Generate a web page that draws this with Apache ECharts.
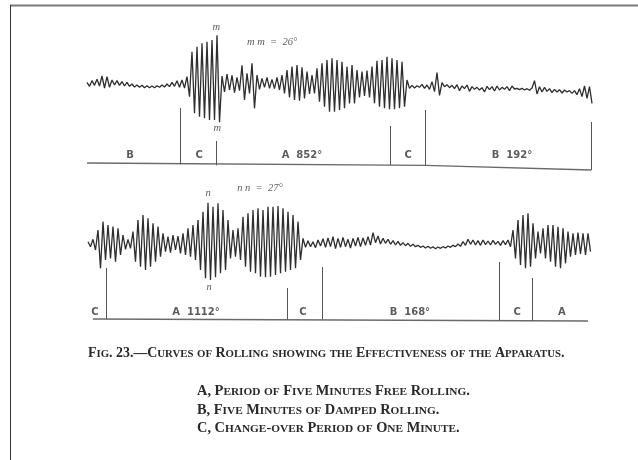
<!DOCTYPE html>
<html>
<head>
<meta charset="utf-8">
<script src="https://cdn.jsdelivr.net/npm/echarts@6/dist/echarts.min.js"></script>
<style>html,body{margin:0;padding:0;background:#fff}#c{width:638px;height:460px}</style>
</head>
<body>
<div id="c"></div>
<script>
// ---- DATA (roll angle in degrees at successive half-roll turning points) ----
const SAMPLE_STEP_MIN = 0.072; // minutes between turning points (half a roll period)

const topRoll = [
 0.3,-0.9,0.8,-0.6,1.2,-0.8,2.2,-1.4,2.0,-1.2,
 1.0,-0.5,0.8,-0.6,0.5,-0.8,0.3,-0.9,-0.2,-1.1,
 -0.5,-1.2,-0.6,-1.3,-0.7,-1.3,-0.8,-1.3,-0.7,-1.2,
 -0.5,-1.1,-0.2,-1.0,0.3,-0.9,0.8,-1.2,1.0,-1.4,
 2.0,-4.0,9.5,-9.0,11.0,-10.0,12.0,-10.5,12.5,-11.0,
 13.0,-11.0,14.4,-11.7,2.2,-2.6,2.8,-2.0,2.4,-2.8,
 1.8,-2.2,5.4,-5.0,3.0,-3.0,6.0,-7.5,2.5,-1.8,
 1.5,-1.2,1.8,-1.5,1.2,-1.6,1.8,-2.0,2.5,-3.0,
 4.0,-4.2,5.0,-5.0,5.5,-5.2,4.8,-4.5,3.5,-3.2,
 2.5,-3.0,4.5,-5.5,6.0,-7.0,7.0,-8.5,7.5,-8.5,
 7.0,-8.0,6.5,-7.5,5.0,-6.0,5.5,-6.0,4.0,-4.2,
 3.5,-3.8,3.8,-4.2,5.0,-6.0,6.8,-7.0,7.0,-7.5,
 8.0,-7.8,7.5,-7.8,7.0,-7.5,6.5,-7.0,1.0,-1.5,
 -0.6,-1.4,-0.7,-1.2,-0.3,-1.5,-0.5,-1.8,0.5,-2.5,
 3.2,-3.6,0.2,-1.0,-0.4,-1.3,-0.6,-1.6,-0.4,-2.2,
 -0.8,-1.6,-0.5,-2.4,-1.0,-1.8,-1.2,-2.0,-1.3,-2.6,
 -0.9,-1.9,-1.0,-2.3,-0.8,-2.0,-1.2,-1.8,-1.0,-2.2,
 -0.8,-1.7,-1.5,-1.9,-1.5,-2.0,-1.6,-2.1,-1.4,0.8,
 -3.2,-1.0,-2.6,-1.2,-2.4,-1.6,-2.8,-1.8,-2.6,-1.9,
 -2.9,-2.0,-2.6,-2.2,-3.0,-2.2,-3.4,-1.6,-4.0,-0.8,
 -4.5,-1.0,-6.0
];

const bottomRoll = [
 0.5,-1.0,1.2,-2.0,4.0,-7.5,6.5,-5.0,5.5,-4.5,
 5.0,-5.5,4.5,-3.5,2.5,-1.8,1.2,-1.5,3.5,-5.5,
 7.0,-7.0,8.5,-8.0,7.5,-7.0,6.0,-5.5,5.0,-4.0,
 3.0,-2.5,2.0,-2.8,2.5,-2.0,2.2,-3.0,3.0,-3.5,
 4.5,-4.0,5.5,-5.0,7.0,-8.0,9.5,-10.5,12.2,-11.0,
 11.0,-10.2,12.0,-9.0,10.0,-8.0,7.0,-4.5,4.0,-4.0,
 4.5,-5.0,8.0,-7.0,9.0,-8.5,10.0,-9.0,10.5,-10.0,
 10.0,-10.2,11.0,-10.0,11.0,-9.5,11.2,-9.0,10.5,-8.5,
 9.5,-8.0,8.5,-7.5,6.5,-5.0,1.5,-1.2,0.8,-1.0,
 0.5,-1.3,1.0,-0.8,1.4,-1.2,1.6,-1.0,2.0,-1.6,
 1.5,-1.2,1.8,-1.0,1.2,-1.4,1.5,-0.8,1.8,-1.0,
 1.6,-0.6,2.0,-0.5,3.2,0.2,2.2,-0.2,1.5,0.0,
 1.2,-0.3,0.8,-0.5,0.6,-0.6,0.2,-0.7,0.0,-0.9,
 -0.3,-1.0,-0.6,-1.2,-0.8,-1.4,-0.9,-1.5,-1.0,-1.6,
 -1.1,-1.5,-1.0,-1.4,-0.8,-1.2,-0.6,-1.0,-0.2,-0.9,
 0.5,-0.6,1.2,-0.3,1.0,-0.5,0.8,-0.6,1.0,-0.4,
 0.7,-0.5,0.9,-0.3,0.6,-0.6,0.8,-0.4,1.0,-1.0,
 4.0,-4.5,7.0,-6.5,8.5,-7.5,9.0,-7.0,6.0,-4.5,
 3.5,-3.0,4.5,-4.5,5.5,-5.5,5.5,-7.0,5.0,-7.5,
 4.5,-6.0,3.5,-4.0,3.0,-3.5,3.2,-3.2,3.0,-3.5,
 3.0,-2.5
];

// period boundaries (minutes from start of each trace)
const topBoundaries = [2.68, 3.72, 8.73, 9.74, 14.52];
const bottomBoundaries = [0.52, 5.73, 6.74, 11.84, 12.79];

// period labels and their centres (minutes)
const topPeriodLabels = ['B', 'C', 'A  852°', 'C', 'B  192°'];
const topPeriodCentres = [1.24, 3.23, 6.19, 9.25, 12.24];
const bottomPeriodLabels = ['C', 'A  1112°', 'C', 'B  168°', 'C', 'A'];
const bottomPeriodCentres = [0.2, 3.11, 6.19, 9.27, 12.36, 13.65];

// ---- LAYOUT / STYLE ----
const topMarkerTops = [-7.4, -17.3, -12.8, -8.0, -11.6];
const topMarkerBottoms = [-24.3, -24.6, -24.5, -24.6, -26.0];
const bottomMarkerTops = [-7.4, -13.4, -7.1, -5.6, -10.4];
const bottomMarkerBottoms = [-22.7, -22.9, -22.9, -23.1, -23.2];

const INK = '#2e2e2e';
const labelFont = {fontFamily: 'DejaVu Sans', fontSize: 10, fontWeight: 'bold', color: '#333'};

function smallCaps(str) {
  let out = '', cur = null, buf = '';
  for (const ch of str) {
    const isLower = ch >= 'a' && ch <= 'z';
    const kind = isLower ? 's' : 'b';
    if (kind !== cur && buf) { out += '{' + cur + '|' + buf + '}'; buf = ''; }
    cur = kind;
    buf += isLower ? ch.toUpperCase() : ch;
  }
  if (buf) out += '{' + cur + '|' + buf + '}';
  return out;
}
function capsRich(big, small) {
  return {
    b: {fontFamily: 'Liberation Serif', fontSize: big, color: '#2a2a2a', verticalAlign: 'bottom', lineHeight: 16},
    s: {fontFamily: 'Liberation Serif', fontSize: small, color: '#2a2a2a', verticalAlign: 'bottom', lineHeight: 16}
  };
}
function capsTitle(text, left, top, big, small) {
  return {text: smallCaps(text), left: left, top: top, padding: 0,
          textStyle: {rich: capsRich(big, small), fontFamily: 'Liberation Serif'}};
}

function markerLines(bounds, tops, bottoms) {
  return bounds.map((t, k) => [{coord: [t, tops[k]]}, {coord: [t, bottoms[k]]}]);
}
function labelPoints(centres, labels, y) {
  return centres.map((t, k) => ({value: [t, y], name: labels[k]}));
}

const chart = echarts.init(document.getElementById('c'), null, {renderer: 'canvas'});
chart.setOption({
  animation: false,
  backgroundColor: '#ffffff',
  title: [
    capsTitle('Fig. 23.—Curves of Rolling showing the Effectiveness of the Apparatus.', 88, 344, 13.9, 10.8),
    capsTitle('A, Period of Five Minutes Free Rolling.', 197, 382, 14.4, 11.3),
    capsTitle('B, Five Minutes of Damped Rolling.', 197, 401, 14.4, 11.3),
    capsTitle('C, Change-over Period of One Minute.', 197, 419, 14.4, 11.3)
  ],
  graphic: [
    {type: 'line', shape: {x1: 10, y1: 5.5, x2: 638, y2: 5.5}, style: {stroke: '#7a7a7a', lineWidth: 2}},
    {type: 'line', shape: {x1: 10.5, y1: 5, x2: 10.5, y2: 460}, style: {stroke: '#333', lineWidth: 1}}
  ],
  grid: [
    {left: 87, top: 20, width: 505, height: 155},
    {left: 88, top: 180, width: 502.5, height: 155}
  ],
  xAxis: [
    {gridIndex: 0, type: 'value', min: 0, max: (topRoll.length - 1) * SAMPLE_STEP_MIN, show: false},
    {gridIndex: 1, type: 'value', min: 0, max: (bottomRoll.length - 1) * SAMPLE_STEP_MIN, show: false}
  ],
  yAxis: [
    {gridIndex: 0, type: 'value', min: -27.5, max: 19, show: false},
    {gridIndex: 1, type: 'value', min: -27.5, max: 19, show: false}
  ],
  series: [
    {type: 'line', xAxisIndex: 0, yAxisIndex: 0, showSymbol: false, silent: true,
     data: topRoll.map((v, i) => [i * SAMPLE_STEP_MIN, v]),
     lineStyle: {color: INK, width: 1.3}},
    {type: 'line', xAxisIndex: 1, yAxisIndex: 1, showSymbol: false, silent: true,
     data: bottomRoll.map((v, i) => [i * SAMPLE_STEP_MIN, v]),
     lineStyle: {color: INK, width: 1.3}},
    {type: 'line', xAxisIndex: 0, yAxisIndex: 0, showSymbol: false, silent: true,
     data: [[0, -23.9], [9.74, -24.6], [14.52, -26.0]],
     lineStyle: {color: '#6a6a6a', width: 1.3},
     markLine: {silent: true, symbol: ['none', 'none'], label: {show: false},
       lineStyle: {color: '#555', width: 1, type: 'solid'},
       data: markerLines(topBoundaries, topMarkerTops, topMarkerBottoms)}},
    {type: 'line', xAxisIndex: 1, yAxisIndex: 1, showSymbol: false, silent: true,
     data: [[0.14, -22.7], [14.40, -23.3]],
     lineStyle: {color: '#6a6a6a', width: 1.3},
     markLine: {silent: true, symbol: ['none', 'none'], label: {show: false},
       lineStyle: {color: '#555', width: 1, type: 'solid'},
       data: markerLines(bottomBoundaries, bottomMarkerTops, bottomMarkerBottoms)}},
    {type: 'scatter', xAxisIndex: 0, yAxisIndex: 0, symbolSize: 0, silent: true,
     data: labelPoints(topPeriodCentres, topPeriodLabels, -21.5),
     label: Object.assign({show: true, position: 'inside', formatter: p => p.name}, labelFont)},
    {type: 'scatter', xAxisIndex: 1, yAxisIndex: 1, symbolSize: 0, silent: true,
     data: labelPoints(bottomPeriodCentres, bottomPeriodLabels, -20.6),
     label: Object.assign({show: true, position: 'inside', formatter: p => p.name}, labelFont)},
    {type: 'scatter', xAxisIndex: 0, yAxisIndex: 0, symbolSize: 0, silent: true,
     data: [{value: [3.72, 16.9], name: 'm'}, {value: [3.75, -13.4], name: 'm'}, {value: [5.33, 12.4], name: 'm m  =  26°'}],
     label: {show: true, position: 'inside', formatter: p => p.name, fontFamily: 'Liberation Serif',
             fontStyle: 'italic', fontSize: 10.5, color: '#333'}},
    {type: 'scatter', xAxisIndex: 1, yAxisIndex: 1, symbolSize: 0, silent: true,
     data: [{value: [3.46, 15.1], name: 'n'}, {value: [3.49, -13.1], name: 'n'}, {value: [4.95, 16.6], name: 'n n  =  27°'}],
     label: {show: true, position: 'inside', formatter: p => p.name, fontFamily: 'Liberation Serif',
             fontStyle: 'italic', fontSize: 10.5, color: '#333'}}
  ]
});
</script>
</body>
</html>
